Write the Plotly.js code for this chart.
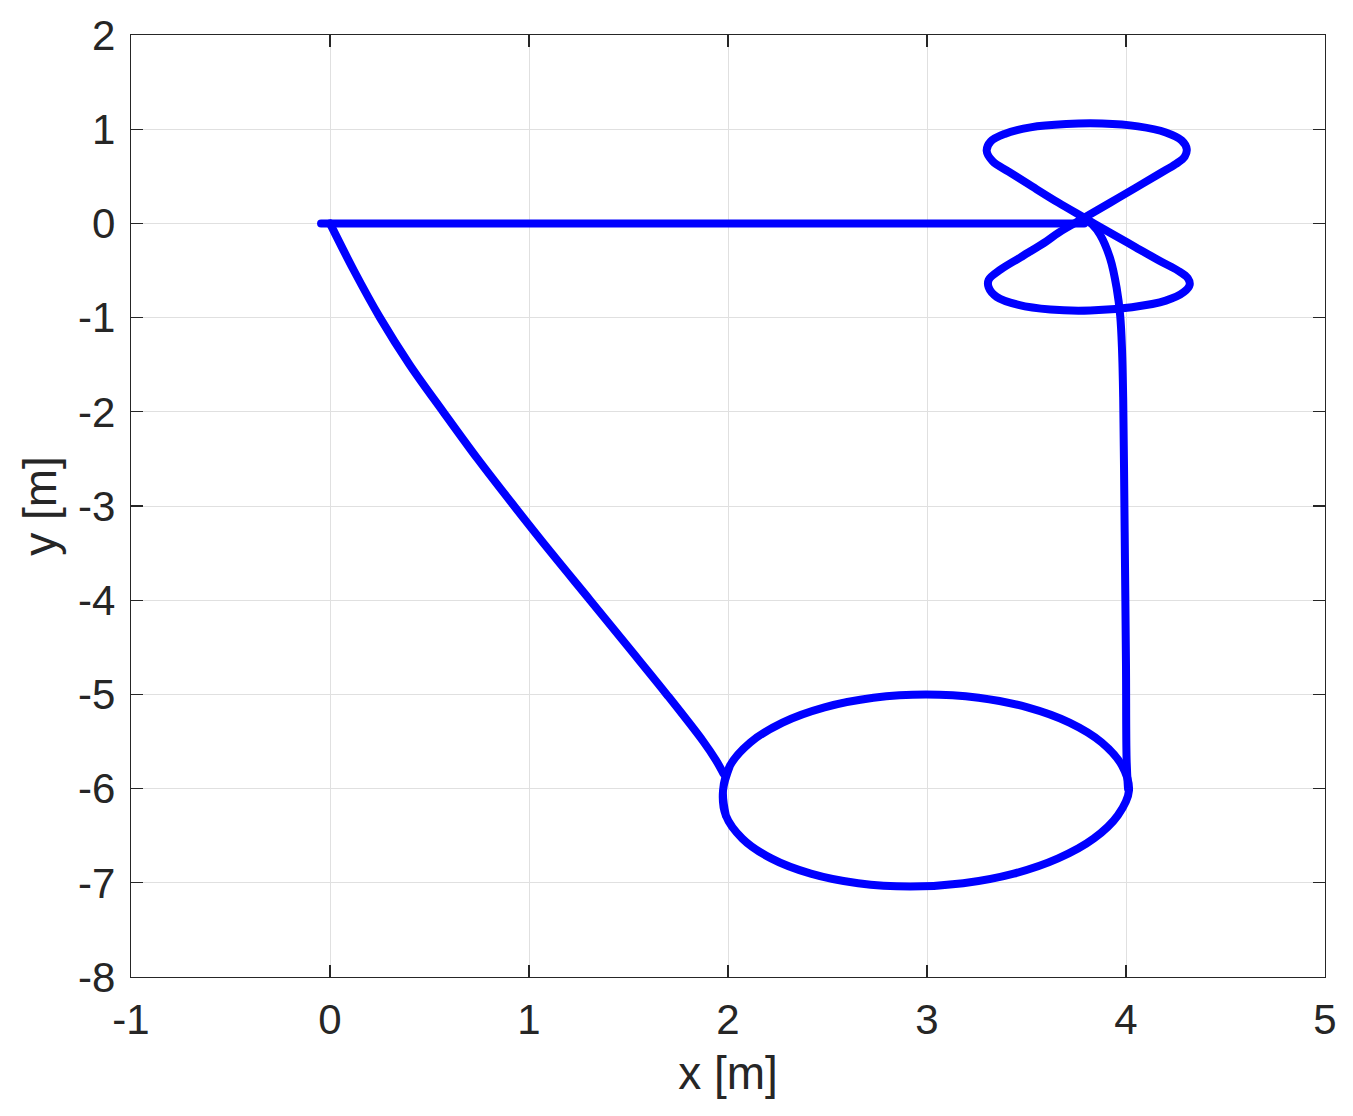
<!DOCTYPE html>
<html>
<head>
<meta charset="utf-8">
<script src="https://cdn.plot.ly/plotly-3.0.1.min.js"></script>
<style>
  body { margin: 0; background: #fff; }
  #plot { width: 1353px; height: 1116px; }
  path.js-line { stroke-linecap: round; stroke-linejoin: round; }
</style>
</head>
<body>
<div id="plot"></div>
<script>
// path, piece by piece (x [m], y [m])
var diagX = [0.0, 0.12, 0.251, 0.40, 0.569, 0.742, 0.925, 1.113, 1.307, 1.50, 1.692, 1.876, 1.94, 1.977];
var diagY = [0.0, -0.5, -1.0, -1.5, -2.0, -2.5, -3.0, -3.5, -4.0, -4.5, -5.0, -5.5, -5.7, -5.84];

var ringX = [2.010, 1.975, 1.989, 2.072, 2.217, 2.416, 2.654, 2.915, 3.182, 3.436, 3.659, 3.838, 3.959,
             4.015, 3.980, 3.878, 3.716, 3.505, 3.259, 2.995, 2.731, 2.485, 2.274, 2.112, 2.010, 1.975, 1.989];
var ringY = [-5.756, -6.02, -6.284, -6.53, -6.741, -6.903, -7.005, -7.04, -7.005, -6.903, -6.741, -6.53, -6.284,
             -6.02, -5.756, -5.51, -5.299, -5.137, -5.035, -5.0, -5.035, -5.137, -5.299, -5.51, -5.756, -6.02, -6.284];

var riseX = [4.01, 4.003, 4.0, 3.995, 3.99, 3.986, 3.98, 3.971, 3.953, 3.92, 3.87, 3.83, 3.79];
var riseY = [-6.0, -5.69, -4.70, -3.64, -2.58, -1.87, -1.34, -0.985, -0.686, -0.37, -0.12, -0.01, 0.05];

var eightX = [3.79, 3.92, 4.05, 4.17, 4.25, 4.295, 4.305, 4.28, 4.20, 4.06, 3.88, 3.70, 3.52, 3.39, 3.32, 3.30, 3.33, 3.41, 3.53, 3.66,
              3.79, 3.92, 4.05, 4.18, 4.26, 4.31, 4.32, 4.29, 4.20, 4.03, 3.82, 3.62, 3.46, 3.35, 3.31, 3.31, 3.37, 3.47, 3.60, 3.66,
              3.79, 3.92];
var eightY = [0.06, 0.22, 0.38, 0.53, 0.63, 0.71, 0.79, 0.88, 0.965, 1.03, 1.06, 1.055, 1.02, 0.95, 0.87, 0.77, 0.66, 0.55, 0.39, 0.22,
              0.06, -0.10, -0.255, -0.41, -0.50, -0.58, -0.65, -0.73, -0.82, -0.89, -0.925, -0.915, -0.865, -0.78, -0.68, -0.60, -0.49, -0.36, -0.19, -0.10,
              0.06, 0.22];

var backX = [3.79, -0.045];
var backY = [0.0, 0.0];

var xTicks = [-1, 0, 1, 2, 3, 4, 5];
var yTicks = [-8, -7, -6, -5, -4, -3, -2, -1, 0, 1, 2];

var blue = '#0000ff';
function piece(xs, ys, shape) {
    return {
        type: 'scatter', x: xs, y: ys, mode: 'lines', showlegend: false, hoverinfo: 'skip',
        line: { color: blue, width: 8, shape: shape, smoothing: 1, simplify: false }
    };
}

var data = [
    piece(diagX, diagY, 'spline'),
    piece(ringX, ringY, 'spline'),
    piece(riseX, riseY, 'spline'),
    piece(eightX, eightY, 'spline'),
    piece(backX, backY, 'linear')
];

var ink = '#262626';
var font = 'Liberation Sans, Arial, sans-serif';
var axisCommon = {
    showline: true, linecolor: ink, linewidth: 1.3, mirror: 'ticks',
    ticks: 'inside', ticklen: 12, tickwidth: 1.3, tickcolor: ink,
    showgrid: true, gridcolor: '#e0e0e0', gridwidth: 1,
    zeroline: false, tickmode: 'array',
    tickfont: { family: font, size: 42, color: ink }
};

var layout = {
    width: 1353, height: 1116,
    margin: { l: 131, r: 28, t: 35, b: 139 },
    paper_bgcolor: '#fff', plot_bgcolor: '#fff',
    xaxis: Object.assign({}, axisCommon, {
        range: [-1, 5], tickvals: xTicks, ticktext: xTicks.map(String),
        ticklabelstandoff: 5,
        title: { text: 'x [m]', standoff: 15, font: { family: font, size: 46, color: ink } }
    }),
    yaxis: Object.assign({}, axisCommon, {
        range: [-8, 2], tickvals: yTicks, ticktext: yTicks.map(String),
        ticklabelstandoff: 6,
        title: { text: 'y [m]', standoff: 6, font: { family: font, size: 46, color: ink } }
    })
};

Plotly.newPlot('plot', data, layout, { staticPlot: true, displayModeBar: false });
</script>
</body>
</html>
